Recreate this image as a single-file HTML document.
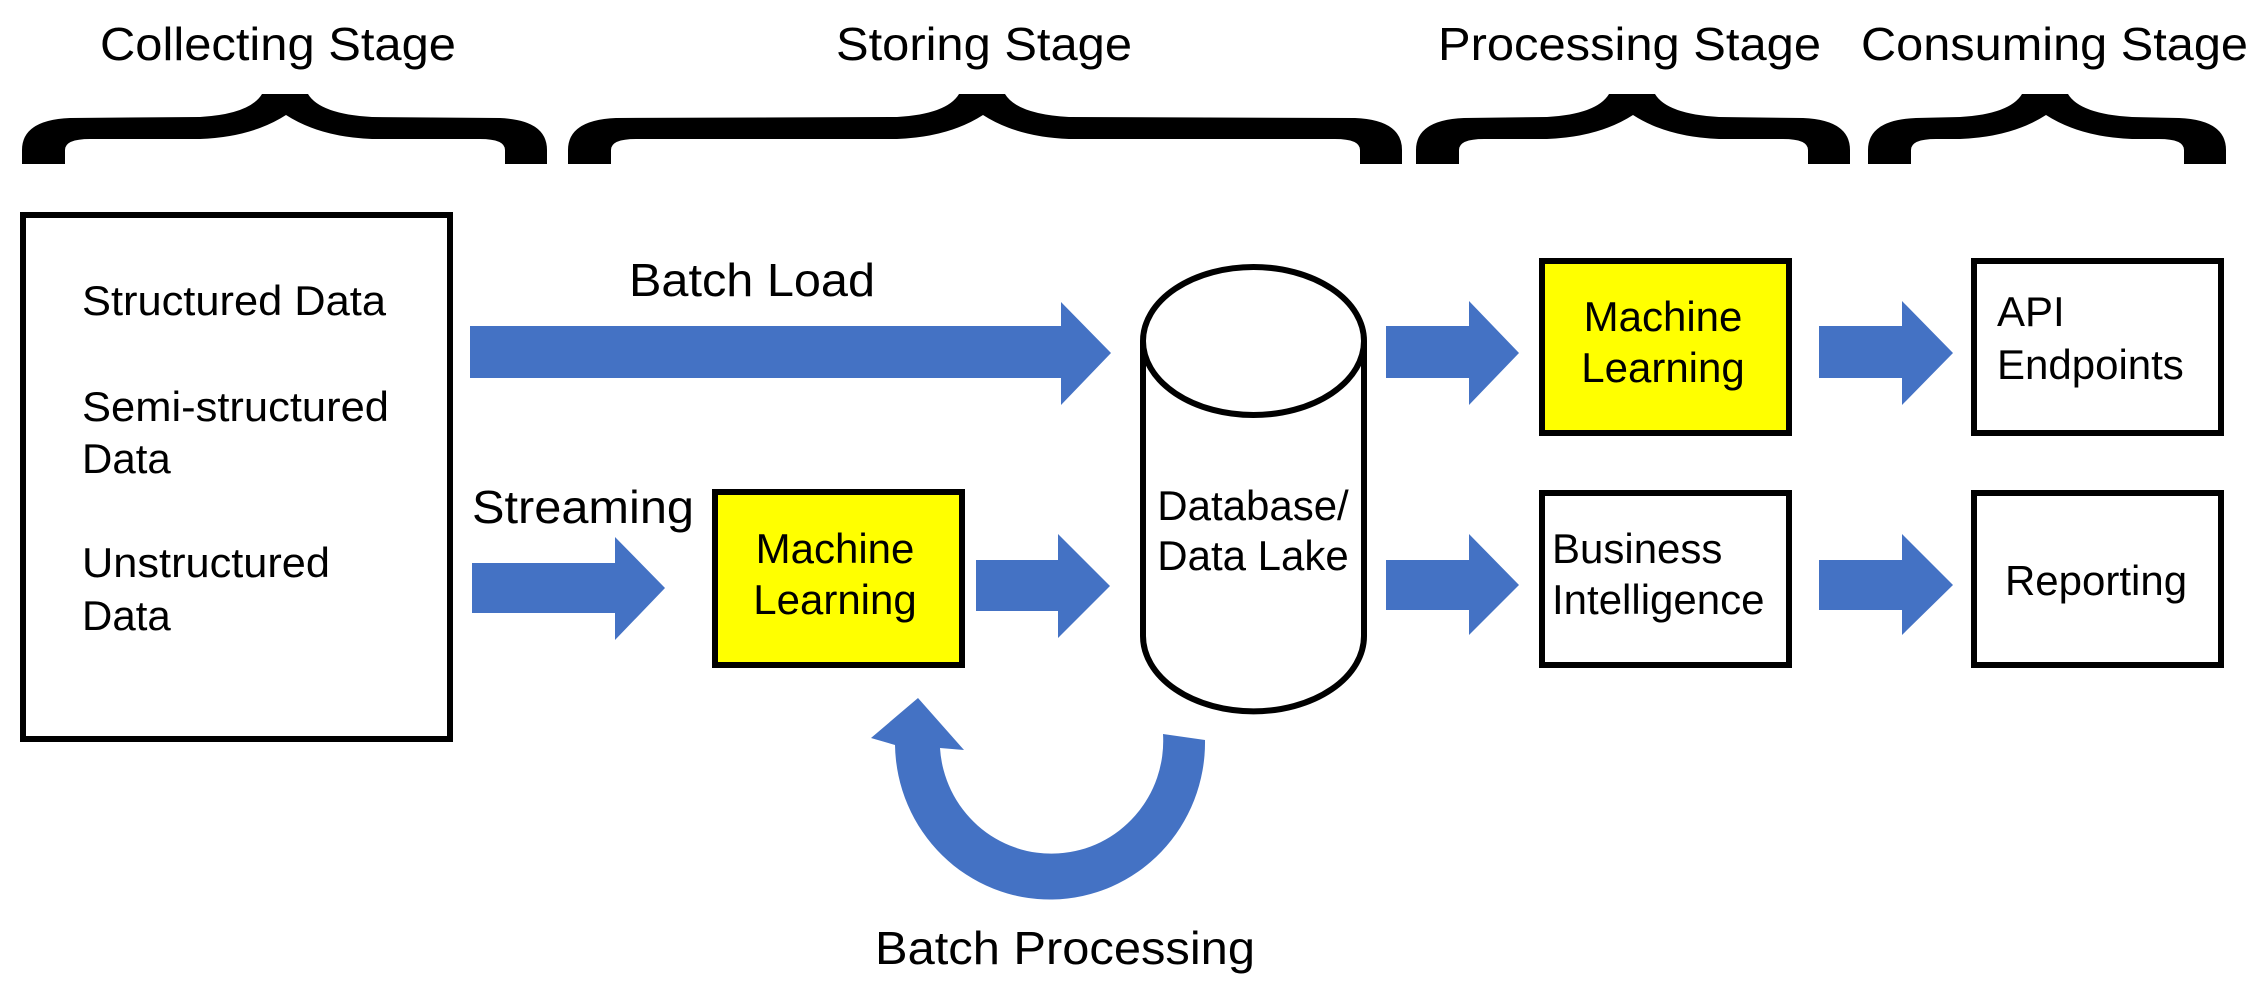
<!DOCTYPE html>
<html><head><meta charset="utf-8"><style>
html,body{margin:0;padding:0;background:#fff;}
svg{display:block;}
text{font-family:"Liberation Sans",Arial,sans-serif;fill:#000;}
</style></head><body>
<svg width="2268" height="988" viewBox="0 0 2268 988" xmlns="http://www.w3.org/2000/svg">
<!-- stage titles -->
<g font-size="46">
<text x="100" y="60" textLength="356" lengthAdjust="spacingAndGlyphs">Collecting Stage</text>
<text x="836" y="60" textLength="296" lengthAdjust="spacingAndGlyphs">Storing Stage</text>
<text x="1438" y="60" textLength="383" lengthAdjust="spacingAndGlyphs">Processing Stage</text>
<text x="1861" y="60" textLength="387" lengthAdjust="spacingAndGlyphs">Consuming Stage</text>
</g>
<!-- braces -->
<g fill="#000">
<path d="M22,164 L22,150 Q22,120 70,118 L200,117 Q250,114 262,94 L308,94 Q320,114 372,117 L500,118 Q547,120 547,150 L547,164 L505,164 L505,150 Q505,139 480,139 L372,139 Q320,137 286,115 Q252,137 200,139 L90,139 Q65,139 65,150 L65,164 Z"/>
<path d="M568,164 L568,150 Q568,120 616,118 L897,117 Q947,114 959,94 L1005,94 Q1017,114 1069,117 L1355,118 Q1402,120 1402,150 L1402,164 L1360,164 L1360,150 Q1360,139 1335,139 L1069,139 Q1017,137 983,115 Q949,137 897,139 L636,139 Q611,139 611,150 L611,164 Z"/>
<path d="M1416,164 L1416,150 Q1416,120 1464,118 L1547,117 Q1597,114 1609,94 L1655,94 Q1667,114 1719,117 L1803,118 Q1850,120 1850,150 L1850,164 L1808,164 L1808,150 Q1808,139 1783,139 L1719,139 Q1667,137 1633,115 Q1599,137 1547,139 L1484,139 Q1459,139 1459,150 L1459,164 Z"/>
<path d="M1868,164 L1868,150 Q1868,120 1916,118 L1960,117 Q2010,114 2022,94 L2068,94 Q2080,114 2132,117 L2179,118 Q2226,120 2226,150 L2226,164 L2184,164 L2184,150 Q2184,139 2159,139 L2132,139 Q2080,137 2046,115 Q2012,137 1960,139 L1936,139 Q1911,139 1911,150 L1911,164 Z"/>
</g>
<!-- boxes -->
<g stroke="#000" stroke-width="6">
<rect x="23" y="215" width="427" height="524" fill="#fff"/>
<rect x="715" y="492" width="247" height="173" fill="#ffff00"/>
<rect x="1542" y="261" width="247" height="172" fill="#ffff00"/>
<rect x="1542" y="493" width="247" height="172" fill="#fff"/>
<rect x="1974" y="261" width="247" height="172" fill="#fff"/>
<rect x="1974" y="493" width="247" height="172" fill="#fff"/>
</g>
<!-- cylinder -->
<g stroke="#000" stroke-width="6" fill="#fff">
<path d="M1143,341 L1143,636 A110,75 0 0 0 1364,636 L1364,341"/>
<ellipse cx="1253.5" cy="341" rx="110.5" ry="74"/>
</g>
<!-- arrows -->
<g fill="#4472C4">
<polygon points="470,326 1061,326 1061,302 1111,353 1061,405 1061,378 470,378"/>
<polygon points="472,563 615,563 615,537 665,588 615,640 615,613 472,613"/>
<polygon points="976,560 1058,560 1058,534 1110,586 1058,638 1058,611 976,611"/>
<polygon points="1386,326 1469,326 1469,301 1519,353 1469,405 1469,378 1386,378"/>
<polygon points="1386,560 1469,560 1469,534 1519,585 1469,635 1469,610 1386,610"/>
<polygon points="1819,326 1902,326 1902,301 1953,353 1902,405 1902,378 1819,378"/>
<polygon points="1819,560 1902,560 1902,534 1953,585 1902,635 1902,610 1819,610"/>
<path d="M1205,740 A155,157 0 0 1 895,745 L871,738 L918,698 L964,750 L940,748 A111,112 0 0 0 1163,734 Z"/>
</g>
<!-- texts -->
<g font-size="42">
<text x="82" y="315" textLength="304" lengthAdjust="spacingAndGlyphs">Structured Data</text>
<text x="82" y="421" textLength="307" lengthAdjust="spacingAndGlyphs">Semi-structured</text>
<text x="82" y="473">Data</text>
<text x="82" y="577" textLength="248" lengthAdjust="spacingAndGlyphs">Unstructured</text>
<text x="82" y="630">Data</text>
<text x="835" y="563" text-anchor="middle">Machine</text>
<text x="835" y="614" text-anchor="middle">Learning</text>
<text x="1253" y="520" text-anchor="middle">Database/</text>
<text x="1253" y="570" text-anchor="middle">Data Lake</text>
<text x="1663" y="331" text-anchor="middle">Machine</text>
<text x="1663" y="382" text-anchor="middle">Learning</text>
<text x="1552" y="563">Business</text>
<text x="1552" y="614">Intelligence</text>
<text x="1997" y="326">API</text>
<text x="1997" y="379">Endpoints</text>
<text x="2096" y="595" text-anchor="middle">Reporting</text>
</g>
<g font-size="46">
<text x="629" y="296" textLength="246" lengthAdjust="spacingAndGlyphs">Batch Load</text>
<text x="472" y="523" textLength="222" lengthAdjust="spacingAndGlyphs">Streaming</text>
<text x="875" y="964" textLength="380" lengthAdjust="spacingAndGlyphs">Batch Processing</text>
</g>
</svg>
</body></html>
